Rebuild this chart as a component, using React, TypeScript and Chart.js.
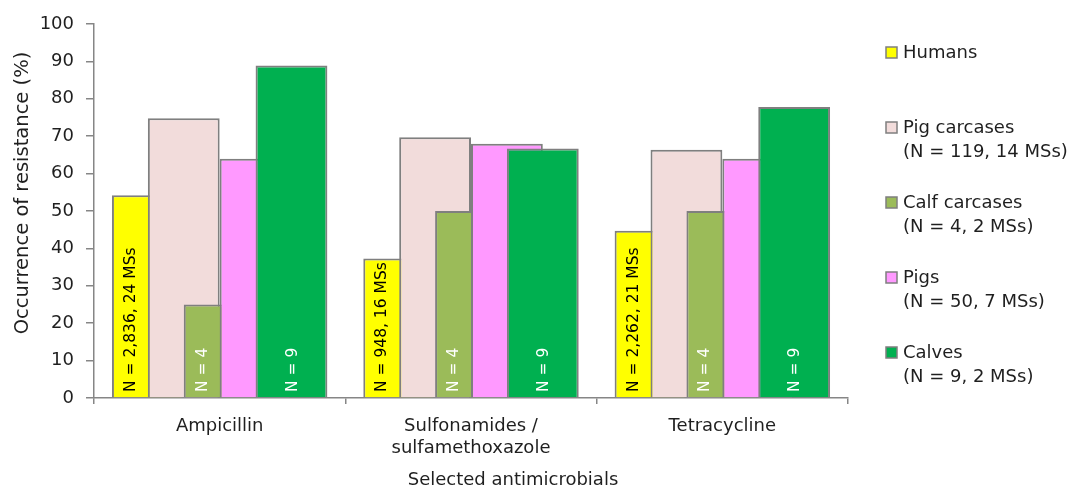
import { useEffect, useRef } from 'react';
import { Chart, registerables } from 'chart.js';

Chart.register(...registerables);

// ---- Data ----
const categories: string[][] = [['Ampicillin'], ['Sulfonamides /', 'sulfamethoxazole'], ['Tetracycline']];
const seriesNames = ['Humans', 'Pig carcases', 'Calf carcases', 'Pigs', 'Calves'];
const seriesSubtitles = ['', '(N = 119, 14 MSs)', '(N = 4, 2 MSs)', '(N = 50, 7 MSs)', '(N = 9, 2 MSs)'];
const humans = [54.2, 37.3, 44.7];
const pigCarcases = [74.8, 69.7, 66.4];
const calfCarcases = [25.0, 50.0, 50.0];
const pigs = [64.0, 68.0, 64.0];
const calves = [88.9, 66.7, 77.8];
const humansLabels = ['N = 2,836, 24 MSs', 'N = 948, 16 MSs', 'N = 2,262, 21 MSs'];
const calfCarcasesLabels = ['N = 4', 'N = 4', 'N = 4'];
const calvesLabels = ['N = 9', 'N = 9', 'N = 9'];
const yAxisTitle = 'Occurrence of resistance (%)';
const xAxisTitle = 'Selected antimicrobials';

// ---- Styles ----
const FONT = "'DejaVu Sans', sans-serif";
const colors = ['#FFFF00', '#F2DCDB', '#9BBB59', '#FF99FF', '#00B050'];
const BORDER = '#7F7F7F';
const AXIS = '#868686';
const TEXT = '#1F1F1F';

const seriesValues = [humans, pigCarcases, calfCarcases, pigs, calves];
const seriesLabels: (string[] | null)[] = [humansLabels, null, calfCarcasesLabels, null, calvesLabels];
const labelColors = ['#000000', '#000000', '#FFFFFF', '#000000', '#FFFFFF'];

function drawBarLabels(chart: any) {
  const ctx = chart.ctx;
  const yScale = chart.scales.y;
  const base = yScale.getPixelForValue(0);
  const last = chart.data.datasets.length - 1;
  ctx.save();
  ctx.font = `15.5px ${FONT}`;
  ctx.textAlign = 'left';
  ctx.textBaseline = 'middle';
  seriesLabels.forEach((labels, di) => {
    if (!labels) return;
    const meta = chart.getDatasetMeta(di);
    meta.data.forEach((el: any, i: number) => {
      const x = di === last ? el.x : el.x - el.width / 4;
      ctx.save();
      ctx.translate(x + 1, base - 6);
      ctx.rotate(-Math.PI / 2);
      ctx.fillStyle = labelColors[di];
      ctx.fillText(labels[i], 0, 0);
      ctx.restore();
    });
  });
  ctx.restore();
}

const drawInOrder = {
  id: 'drawInOrder',
  beforeDatasetsDraw(chart: any) {
    for (let i = 0; i < chart.data.datasets.length; i++) {
      const meta = chart.getDatasetMeta(i);
      if (!meta.hidden) meta.controller.draw();
    }
    drawBarLabels(chart);
    return false;
  },
};

const extras = {
  id: 'extras',
  afterDraw(chart: any) {
    const ctx = chart.ctx;
    ctx.save();
    ctx.fillStyle = TEXT;
    ctx.font = `19.5px ${FONT}`;
    ctx.textAlign = 'center';
    ctx.textBaseline = 'middle';
    ctx.save();
    ctx.translate(23, 193);
    ctx.rotate(-Math.PI / 2);
    ctx.fillText(yAxisTitle, 0, 0);
    ctx.restore();
    ctx.font = `18px ${FONT}`;
    ctx.fillText(xAxisTitle, 513, 480);

    // legend
    ctx.font = `18px ${FONT}`;
    ctx.textAlign = 'left';
    seriesNames.forEach((name, i) => {
      const y = 53 + i * 75;
      ctx.fillStyle = colors[i];
      ctx.fillRect(886, y - 6, 11, 11);
      ctx.strokeStyle = BORDER;
      ctx.lineWidth = 1.5;
      ctx.strokeRect(886, y - 6, 11, 11);
      ctx.fillStyle = TEXT;
      ctx.fillText(name, 903, y);
      if (seriesSubtitles[i]) ctx.fillText(seriesSubtitles[i], 903, y + 24);
    });
    ctx.restore();
  },
};

export default function App() {
  const ref = useRef<HTMLCanvasElement | null>(null);
  useEffect(() => {
    if (!ref.current) return;
    Chart.defaults.font.family = FONT;
    const chart = new Chart(ref.current, {
      type: 'bar',
      data: {
        labels: categories,
        datasets: seriesNames.map((name, i) => ({
          label: name,
          data: seriesValues[i],
          backgroundColor: colors[i],
          borderColor: BORDER,
          borderWidth: 2,
          categoryPercentage: 0.7143,
          barPercentage: 2,
        })),
      },
      options: {
        responsive: false,
        animation: false,
        layout: { padding: { left: 0, top: 24, right: 223, bottom: 0 } },
        plugins: { legend: { display: false }, tooltip: { enabled: false } },
        scales: {
          x: {
            ticks: { color: TEXT, font: { size: 18 }, padding: 12, maxRotation: 0 },
            grid: { drawOnChartArea: false, tickLength: 6, color: AXIS, offset: true, lineWidth: 1.5 },
            border: { color: AXIS, width: 1.5 },
            afterFit: (s: any) => { s.height = 90; },
          },
          y: {
            min: 0,
            max: 100,
            ticks: { stepSize: 10, color: TEXT, font: { size: 18 }, padding: 12 },
            grid: { drawOnChartArea: false, tickLength: 8, color: AXIS, lineWidth: 1.5 },
            border: { color: AXIS, width: 1.5 },
            afterFit: (s: any) => { s.width = 94; },
          },
        },
      },
      plugins: [drawInOrder, extras],
    });
    return () => chart.destroy();
  }, []);
  return (
    <div style={{ position: 'absolute', left: 0, top: 0, width: 1071, height: 488, background: '#fff' }}>
      <canvas ref={ref} width={1071} height={488} />
    </div>
  );
}
